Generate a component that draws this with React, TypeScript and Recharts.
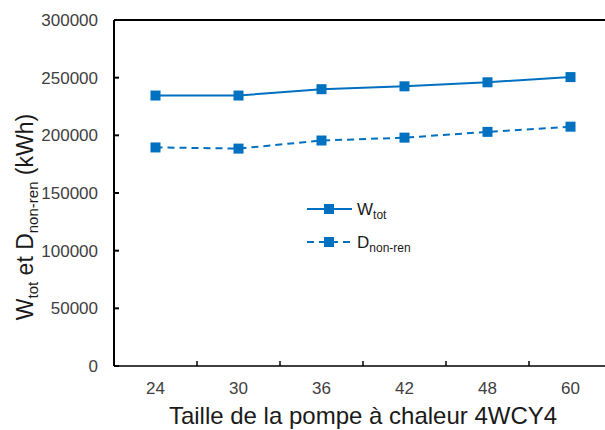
import React from "react";
import {
  LineChart,
  Line,
  XAxis,
  YAxis,
  Legend,
  ReferenceLine,
} from "recharts";

const categories = ["24", "30", "36", "42", "48", "60"];
const wTot = [234500, 234500, 240000, 242500, 246000, 250500];
const dNonRen = [189500, 188500, 195500, 198000, 203000, 207500];
const yTicks = [0, 50000, 100000, 150000, 200000, 250000, 300000];
// legend labels split in [main, subscript], in legend order
const seriesKeys = ["w", "d"];
const legendLabels: Record<string, string[]> = {
  w: ["W", "tot"],
  d: ["D", "non-ren"],
};

const data = categories.map((c, i) => ({
  name: c,
  w: wTot[i],
  d: dNonRen[i],
}));

const BLUE = "#0070C0";
const FONT = "'Liberation Sans', Arial, sans-serif";
const TICK_COLOR = "#404040";

const XTick = (props: any) => {
  const { x, y, payload, index, width, visibleTicksCount } = props;
  const band = width && visibleTicksCount ? width / visibleTicksCount : 83;
  const axisY = y - 16;
  return (
    <g>
      {index > 0 && (
        <line
          x1={x - band / 2}
          x2={x - band / 2}
          y1={axisY}
          y2={axisY - 5}
          stroke="#000"
          strokeWidth={1.5}
        />
      )}
      <text
        x={x}
        y={y}
        dy="0.71em"
        textAnchor="middle"
        fill={TICK_COLOR}
        fontSize={17}
        fontFamily={FONT}
      >
        {payload.value}
      </text>
    </g>
  );
};

const YTitle = ({ viewBox }: any) => {
  const cx = viewBox.x + 33;
  const cy = viewBox.y + viewBox.height / 2 + 24;
  return (
    <text
      transform={`translate(${cx}, ${cy}) rotate(-90)`}
      textAnchor="middle"
      fontFamily={FONT}
      fontSize={23}
      fill="#1a1a1a"
    >
      <tspan>W</tspan>
      <tspan fontSize={15} dy={5}>tot</tspan>
      <tspan dy={-5}> et D</tspan>
      <tspan fontSize={15} dy={5}>non-ren</tspan>
      <tspan dy={-5}> (kWh)</tspan>
    </text>
  );
};

const CustomLegend = ({ payload }: any) => {
  const items = [...(payload || [])].sort(
    (a: any, b: any) =>
      seriesKeys.indexOf(a.dataKey) - seriesKeys.indexOf(b.dataKey)
  );
  return (
    <svg width={140} height={62} style={{ display: "block" }}>
      {items.map((entry: any, i: number) => {
        const y = 14 + i * 33;
        const dash = entry.payload?.strokeDasharray;
        const label = legendLabels[entry.dataKey] || [entry.value, ""];
        return (
          <g key={i}>
            <line
              x1={7}
              x2={52}
              y1={y}
              y2={y}
              stroke={BLUE}
              strokeWidth={2}
              strokeDasharray={dash}
            />
            <rect x={24} y={y - 5} width={10} height={10} fill={BLUE} />
            <text x={57} y={y + 6} fontFamily={FONT} fontSize={17} fill="#1a1a1a">
              <tspan>{label[0]}</tspan>
              <tspan fontSize={12} dy={4}>
                {label[1]}
              </tspan>
            </text>
          </g>
        );
      })}
    </svg>
  );
};

const SquareDot = (props: any) => {
  const { cx, cy } = props;
  if (cx == null || cy == null) return null;
  return <rect x={cx - 5} y={cy - 5} width={10} height={10} fill={BLUE} />;
};

export default function App() {
  return (
    <div
      style={{
        position: "fixed",
        left: 0,
        top: 0,
        width: 605,
        height: 430,
        overflow: "hidden",
        background: "#fff",
      }}
    >
      <LineChart
        width={620}
        height={430}
        data={data}
        margin={{ top: 20, right: 8, left: 0, bottom: 0 }}
      >
        <XAxis
          dataKey="name"
          scale="band"
          height={64}
          tickLine={false}
          tickSize={0}
          tickMargin={16}
          tick={<XTick />}
          stroke="#000"
          strokeWidth={1.5}
          label={{
            value: "Taille de la pompe à chaleur 4WCY4",
            position: "insideBottom",
            offset: 6,
            fontSize: 24,
            fontFamily: FONT,
            fill: "#1a1a1a",
          }}
        />
        <YAxis
          width={114}
          domain={[0, 300000]}
          ticks={yTicks}
          interval={0}
          tickSize={-5}
          tickMargin={21}
          stroke="#000"
          strokeWidth={2}
          tick={{ fill: TICK_COLOR, fontSize: 17, fontFamily: FONT }}
          label={<YTitle />}
        />
        <ReferenceLine y={300000} stroke="#000" strokeWidth={2} />
        <Legend
          layout="vertical"
          align="center"
          verticalAlign="middle"
          content={<CustomLegend />}
          wrapperStyle={{ left: 300, top: 195, width: 140, height: 62 }}
        />
        <Line
          type="linear"
          dataKey="w"
          name="Wtot"
          stroke={BLUE}
          strokeWidth={2}
          dot={<SquareDot />}
          activeDot={false}
          isAnimationActive={false}
        />
        <Line
          type="linear"
          dataKey="d"
          name="Dnon-ren"
          stroke={BLUE}
          strokeWidth={2}
          strokeDasharray="7 5"
          dot={<SquareDot />}
          activeDot={false}
          isAnimationActive={false}
        />
      </LineChart>
    </div>
  );
}
